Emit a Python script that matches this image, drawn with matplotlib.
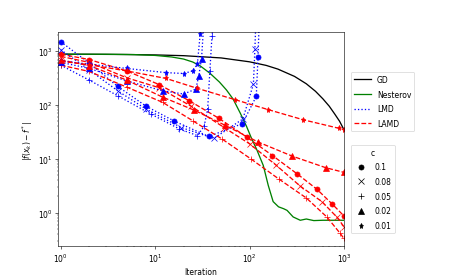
import matplotlib
matplotlib.use("Agg")
import matplotlib.pyplot as plt
from matplotlib.lines import Line2D

# --- data ---
gd_iters = [1, 2, 5, 10, 20, 50, 100, 150, 200, 300, 400, 500, 600, 700, 800, 900, 1000]
gd_vals = [880, 877, 868, 853, 826, 750, 635, 545, 465, 340, 248, 180, 130, 95, 68, 50, 35]

nest_iters = [1, 3, 6, 10, 15, 20, 25, 30, 38, 48, 57, 67, 80, 93, 105, 119, 140, 158,
              178, 203, 230, 250, 290, 345, 400, 480, 600, 800, 1000]
nest_vals = [880, 878, 865, 835, 780, 715, 630, 534, 390, 267, 190, 129, 70, 40, 24, 15,
             7.5, 3.2, 1.6, 1.28, 1.18, 1.1, 0.83, 0.72, 0.76, 0.71, 0.72, 0.72, 0.72]

c_values = [0.1, 0.08, 0.05, 0.02, 0.01]

lmd_iters = [
    [1, 2, 4, 8, 16, 37, 84, 118, 123, 127],
    [1, 2, 4, 8, 19, 42, 85, 110, 114, 117],
    [1, 2, 4, 9, 18, 28, 33, 36, 38, 40, 42],
    [1, 2, 5, 12, 20, 27, 29, 31, 33],
    [1, 2, 5, 13, 20, 25, 28, 30, 32],
]
lmd_vals = [
    [1500, 600, 222, 95, 50, 26, 45, 145, 785, 4000],
    [1060, 450, 184, 84, 38, 24, 55, 245, 1090, 4000],
    [550, 290, 149, 68, 36, 27, 40, 84, 430, 1900, 4000],
    [620, 480, 280, 184, 160, 198, 350, 730, 4000],
    [660, 575, 478, 400, 385, 430, 575, 2070, 5000],
]

lamd_iters = [
    [1, 2, 5, 11, 23, 47, 93, 175, 322, 520, 750, 1000],
    [1, 2, 5, 11, 24, 54, 100, 190, 345, 585, 846, 1000],
    [1, 2, 5, 12, 25, 51, 103, 205, 400, 660, 915, 1000],
    [1, 2, 5, 12, 26, 55, 124, 284, 648, 1000],
    [1, 2, 5, 13, 28, 70, 158, 373, 880, 1000],
]
lamd_vals = [
    [880, 700, 430, 240, 120, 57, 25.5, 11.5, 5.2, 2.7, 1.45, 0.87],
    [800, 620, 320, 210, 95, 38, 19, 7.7, 3.1, 1.6, 0.82, 0.55],
    [550, 420, 215, 112, 51, 23.4, 10, 4.2, 1.87, 0.83, 0.41, 0.33],
    [690, 540, 290, 140, 80, 42, 20.4, 11.2, 6.8, 5.6],
    [650, 560, 430, 312, 204, 126, 82, 53, 37, 35],
]

markers = ['o', 'x', '+', '^', '*']

# big figure rendered at low dpi, so fonts/lines come out small like the reference
fig = plt.figure(figsize=(8.9, 5.346), dpi=52)
ax = fig.add_axes([0.125, 0.11, 0.618, 0.77])

lw = 1.8
ms = 7
ax.plot(gd_iters, gd_vals, color='black', lw=lw)
ax.plot(nest_iters, nest_vals, color='green', lw=lw)
for k in range(len(c_values)):
    ax.plot(lmd_iters[k], lmd_vals[k], color='blue', linestyle=':', lw=lw,
            marker=markers[k], ms=ms)
    ax.plot(lamd_iters[k], lamd_vals[k], color='red', linestyle='--', lw=lw,
            marker=markers[k], ms=ms)

ax.set_xscale('log')
ax.set_yscale('log')
ax.set_xlim(0.93, 1000)
ax.set_ylim(0.235, 2240)
ax.set_xlabel('Iteration', fontsize=10.5)
ax.set_ylabel(r'$|f(x_k) - f^*|$', fontsize=10.5)
ax.tick_params(labelsize=10.5)

method_handles = [
    Line2D([], [], color='black', lw=lw, label='GD'),
    Line2D([], [], color='green', lw=lw, label='Nesterov'),
    Line2D([], [], color='blue', linestyle=':', lw=lw, label='LMD'),
    Line2D([], [], color='red', linestyle='--', lw=lw, label='LAMD'),
]
leg1 = ax.legend(handles=method_handles, loc='upper left', bbox_to_anchor=(1.01, 0.833),
                 fontsize=10.5, labelspacing=0.75, handlelength=2.3)
ax.add_artist(leg1)

c_handles = [Line2D([], [], color='black', linestyle='none', marker=m, ms=ms, label=str(c))
             for m, c in zip(markers, c_values)]
ax.legend(handles=c_handles, title='c', loc='upper left', bbox_to_anchor=(1.01, 0.493),
          fontsize=10.5, title_fontsize=10.5, labelspacing=0.75)

fig.savefig('out.png', dpi=52)
